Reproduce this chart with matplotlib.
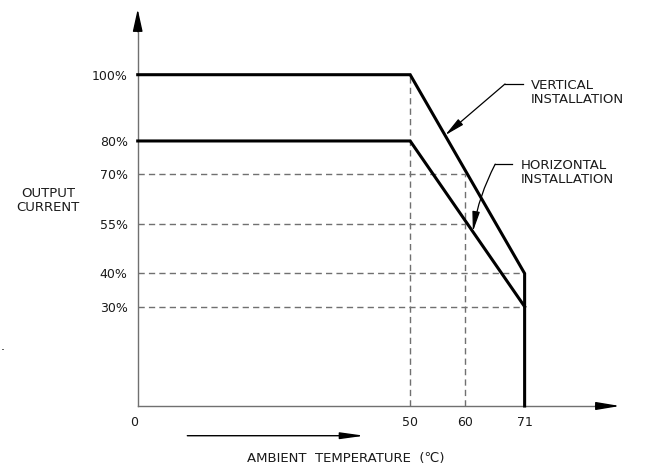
import numpy as np
import matplotlib
matplotlib.use("Agg")
import matplotlib.pyplot as plt

# derating curves (ambient temperature in C, output current in %)
temp_vertical = [0, 50, 71, 71]
current_vertical = [100, 100, 40, 0]
temp_horizontal = [0, 50, 71]
current_horizontal = [80, 80, 30]

# dashed guide lines
guide_levels = [70, 55, 40, 30]
guide_ends = [60, 60, 71, 71]
guide_temps = [50, 60]
guide_tops = [100, 70]

x_ticks = [0, 50, 60, 71]
x_ticklabels = ["0", "50", "60", "71"]
y_ticks = [30, 40, 55, 70, 80, 100]
y_ticklabels = ["30%", "40%", "55%", "70%", "80%", "100%"]

plt.rcParams["font.family"] = ["DejaVu Sans"]
FS = 9
FSW = 9.5
TXT = "#1a1a1a"
GREY = "#707070"

fig = plt.figure(figsize=(6.48, 4.70), dpi=100)
ax = fig.add_axes([0, 0, 1, 1])
ax.set_xlim(-25.27, 93.64)
ax.set_ylim(-19.32, 122.55)

# axes as drafting arrows
for side in ["top", "right"]:
    ax.spines[side].set_visible(False)
ax.spines["left"].set_position(("data", 0))
ax.spines["bottom"].set_position(("data", 0))
ax.spines["left"].set_bounds(0, 115)
ax.spines["bottom"].set_bounds(0, 85)
for side in ["left", "bottom"]:
    ax.spines[side].set_color(GREY)
    ax.spines[side].set_linewidth(1.0)

ax.annotate("", xy=(0, 119.8), xytext=(0, 113),
            arrowprops=dict(arrowstyle="-|>,head_length=0.68,head_width=0.15",
                            mutation_scale=20, color="black", lw=1, shrinkA=0, shrinkB=0))
ax.annotate("", xy=(88.5, 0), xytext=(84, 0),
            arrowprops=dict(arrowstyle="-|>,head_length=0.72,head_width=0.12",
                            mutation_scale=20, color="black", lw=1, shrinkA=0, shrinkB=0))

ax.set_xticks(x_ticks)
ax.set_xticklabels(x_ticklabels)
ax.set_yticks(y_ticks)
ax.set_yticklabels(y_ticklabels)
ax.tick_params(axis="x", length=0, pad=7.5, labelsize=FS, labelcolor=TXT)
ax.tick_params(axis="y", length=0, pad=7.2, labelsize=FS, labelcolor=TXT)
ax.get_xticklabels()[0].set_ha("right")

# guides
for lvl, end in zip(guide_levels, guide_ends):
    ax.plot([0, end], [lvl, lvl], color=GREY, lw=1, ls=(0, (4.5, 3)), zorder=1)
for t, top in zip(guide_temps, guide_tops):
    ax.plot([t, t], [0, top], color=GREY, lw=1, ls=(0, (4.5, 3)), zorder=1)

# curves
ax.plot(temp_vertical, current_vertical, color="black", lw=2.2, zorder=3,
        solid_joinstyle="miter")
ax.plot(temp_horizontal, current_horizontal, color="black", lw=2.2, zorder=3,
        solid_joinstyle="miter")

# leaders
tip_v = 56.4
tip_v_y = np.interp(tip_v, temp_vertical[:3], current_vertical[:3])
ax.plot([67.4, 70.7], [97.2, 97.2], color="black", lw=0.9)
ax.annotate("", xy=(tip_v, tip_v_y), xytext=(67.4, 97.2),
            arrowprops=dict(arrowstyle="-|>,head_length=0.8,head_width=0.15",
                            mutation_scale=15, color="black", lw=0.9, shrinkA=0, shrinkB=0))
ax.text(72.2, 94.6, "VERTICAL\nINSTALLATION", fontsize=FSW, color=TXT,
        ha="left", va="center", linespacing=1.1)

tip_h = 61.5
tip_h_y = np.interp(tip_h, temp_horizontal, current_horizontal)
ax.plot([65.6, 68.7], [73.0, 73.0], color="black", lw=0.9)
ax.annotate("", xy=(tip_h, tip_h_y), xytext=(65.6, 73.0),
            arrowprops=dict(arrowstyle="-|>,head_length=0.8,head_width=0.15",
                            mutation_scale=15, color="black", lw=0.9, shrinkA=0, shrinkB=0,
                            connectionstyle="arc3,rad=0.08"))
ax.text(70.3, 70.6, "HORIZONTAL\nINSTALLATION", fontsize=FSW, color=TXT,
        ha="left", va="center", linespacing=1.1)

# axis titles
ax.text(-16.5, 61.9, "OUTPUT\nCURRENT", fontsize=FSW, color=TXT,
        ha="center", va="center", linespacing=1.1)
ax.annotate("", xy=(41.6, -8.97), xytext=(9.1, -8.97),
            arrowprops=dict(arrowstyle="-|>,head_length=0.72,head_width=0.1",
                            mutation_scale=20, color="black", lw=1, shrinkA=0, shrinkB=0),
            annotation_clip=False)
ax.text(38.2, -15.7, "AMBIENT  TEMPERATURE  (\u2103)", fontsize=FSW, color=TXT,
        ha="center", va="center")

fig.text(3 / 648, 1 - 353 / 470, ".", fontsize=9, color="black", ha="center", va="bottom")

fig.savefig("out.png", dpi=100)
